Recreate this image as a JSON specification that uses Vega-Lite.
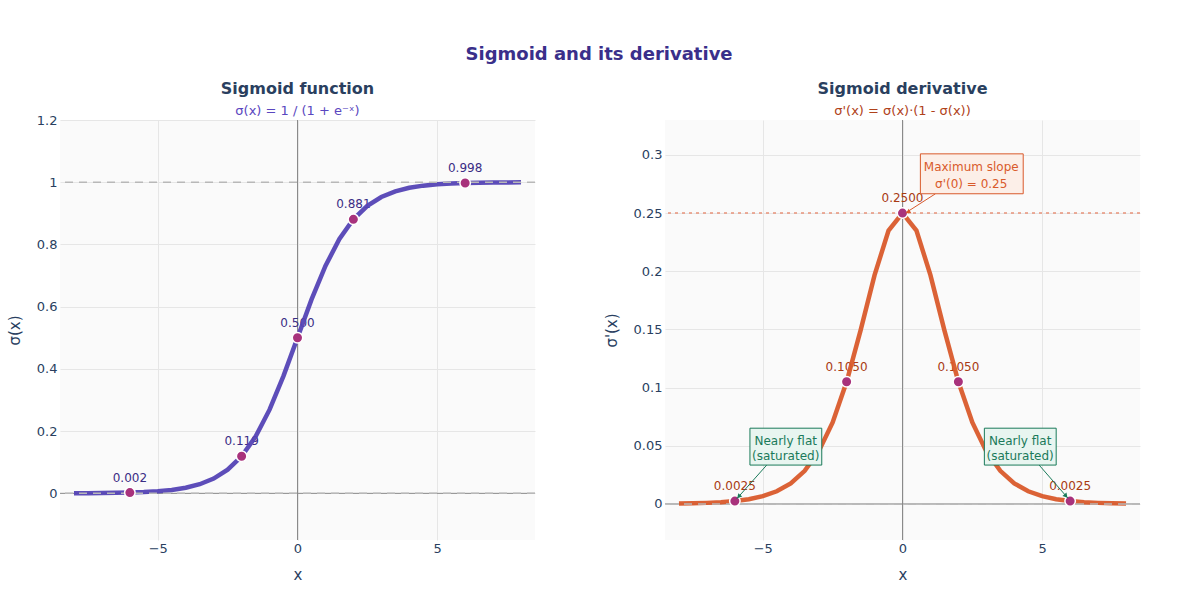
{
  "$schema": "https://vega.github.io/schema/vega-lite/v6.json",
  "background": "white",
  "padding": {"left": 7, "top": 45, "right": 10, "bottom": 10},
  "title": {
    "text": "Sigmoid and its derivative",
    "fontSize": 18,
    "fontWeight": "bold",
    "color": "#3a2f8a",
    "font": "DejaVu Sans",
    "anchor": "middle",
    "offset": 17,
    "dx": 25
  },
  "config": {
    "font": "DejaVu Sans",
    "view": {"fill": "#fafafa", "stroke": null},
    "axis": {
      "domain": false,
      "ticks": false,
      "tickSize": 0,
      "gridColor": "#e6e6e6",
      "labelColor": "#2a3f5f",
      "labelFontSize": 13,
      "labelFont": "DejaVu Sans",
      "titleColor": "#2a3f5f",
      "titleFontSize": 15,
      "titleFontWeight": "normal",
      "titleFont": "DejaVu Sans"
    },
    "axisX": {"labelPadding": 2, "titlePadding": 12},
    "axisY": {"labelPadding": 3, "titlePadding": 14}
  },
  "datasets": {
    "curve": [
      {"x": -8, "s": 0.000335, "d": 0.000335},
      {"x": -7.5, "s": 0.000553, "d": 0.000553},
      {"x": -7, "s": 0.000911, "d": 0.000910},
      {"x": -6.5, "s": 0.001501, "d": 0.001499},
      {"x": -6, "s": 0.002473, "d": 0.002467},
      {"x": -5.5, "s": 0.004070, "d": 0.004054},
      {"x": -5, "s": 0.006693, "d": 0.006648},
      {"x": -4.5, "s": 0.010987, "d": 0.010866},
      {"x": -4, "s": 0.017986, "d": 0.017663},
      {"x": -3.5, "s": 0.029312, "d": 0.028453},
      {"x": -3, "s": 0.047426, "d": 0.045177},
      {"x": -2.5, "s": 0.075858, "d": 0.070104},
      {"x": -2, "s": 0.119203, "d": 0.104994},
      {"x": -1.5, "s": 0.182426, "d": 0.149146},
      {"x": -1, "s": 0.268941, "d": 0.196612},
      {"x": -0.5, "s": 0.377541, "d": 0.235004},
      {"x": 0, "s": 0.5, "d": 0.25},
      {"x": 0.5, "s": 0.622459, "d": 0.235004},
      {"x": 1, "s": 0.731059, "d": 0.196612},
      {"x": 1.5, "s": 0.817574, "d": 0.149146},
      {"x": 2, "s": 0.880797, "d": 0.104994},
      {"x": 2.5, "s": 0.924142, "d": 0.070104},
      {"x": 3, "s": 0.952574, "d": 0.045177},
      {"x": 3.5, "s": 0.970688, "d": 0.028453},
      {"x": 4, "s": 0.982014, "d": 0.017663},
      {"x": 4.5, "s": 0.989013, "d": 0.010866},
      {"x": 5, "s": 0.993307, "d": 0.006648},
      {"x": 5.5, "s": 0.995930, "d": 0.004054},
      {"x": 6, "s": 0.997527, "d": 0.002467},
      {"x": 6.5, "s": 0.998499, "d": 0.001499},
      {"x": 7, "s": 0.999089, "d": 0.000910},
      {"x": 7.5, "s": 0.999447, "d": 0.000553},
      {"x": 8, "s": 0.999665, "d": 0.000335}
    ],
    "marked": [
      {"x": -6, "s": 0.002473, "d": 0.002467, "sl": "0.002", "dl": "0.0025"},
      {"x": -2, "s": 0.119203, "d": 0.104994, "sl": "0.119", "dl": "0.1050"},
      {"x": 0, "s": 0.5, "d": 0.25, "sl": "0.500", "dl": "0.2500"},
      {"x": 2, "s": 0.880797, "d": 0.104994, "sl": "0.881", "dl": "0.1050"},
      {"x": 6, "s": 0.997527, "d": 0.002467, "sl": "0.998", "dl": "0.0025"}
    ],
    "notes": [
      {"kind": "max", "x": 0.64, "x2": 4.32, "y": 0.3009, "y2": 0.2666, "tx": 2.46, "ty1": 0.2892, "ty2": 0.2748, "l1": "Maximum slope", "l2": "σ'(0) = 0.25", "ax": 1.18, "ay": 0.2666, "hx": 0.12, "hy": 0.2503, "px": 0.2, "py": 0.2508, "ang": 238},
      {"kind": "flat", "x": -5.46, "x2": -2.89, "y": 0.0651, "y2": 0.0334, "tx": -4.18, "ty1": 0.0545, "ty2": 0.0415, "l1": "Nearly flat", "l2": "(saturated)", "ax": -4.86, "ay": 0.0334, "hx": -5.93, "hy": 0.0045, "px": -5.86, "py": 0.0063, "ang": 221},
      {"kind": "flat", "x": 2.93, "x2": 5.5, "y": 0.0651, "y2": 0.0334, "tx": 4.21, "ty1": 0.0545, "ty2": 0.0415, "l1": "Nearly flat", "l2": "(saturated)", "ax": 4.89, "ay": 0.0334, "hx": 5.92, "hy": 0.0050, "px": 5.85, "py": 0.0068, "ang": 139}
    ]
  },
  "spacing": 130,
  "bounds": "flush",
  "hconcat": [
    {
      "width": 475,
      "height": 420,
      "title": {
        "text": "Sigmoid function",
        "subtitle": "σ(x) = 1 / (1 + e⁻ˣ)",
        "fontSize": 16,
        "fontWeight": "bold",
        "color": "#2a3f5f",
        "subtitleFontSize": 13,
        "subtitleColor": "#5a47c0",
        "subtitlePadding": 8,
        "anchor": "middle",
        "offset": -4
      },
      "layer": [
        {
          "data": {"values": [{"v": 0}]},
          "mark": {"type": "rule", "color": "#8a8a8a", "strokeWidth": 1},
          "encoding": {
            "x": {"field": "v", "type": "quantitative", "scale": {"domain": [-8.5, 8.5], "nice": false, "zero": false}}
          }
        },
        {
          "data": {"values": [{"v": 0}]},
          "mark": {"type": "rule", "color": "#8a8a8a", "strokeWidth": 1},
          "encoding": {
            "y": {"field": "v", "type": "quantitative", "scale": {"domain": [-0.15, 1.2], "nice": false, "zero": false}}
          }
        },
        {
          "data": {"name": "marked"},
          "mark": {"type": "text", "dy": -15, "fontSize": 12, "color": "#3a2d85"},
          "encoding": {
            "x": {"field": "x", "type": "quantitative", "scale": {"domain": [-8.5, 8.5], "nice": false, "zero": false}},
            "y": {"field": "s", "type": "quantitative", "scale": {"domain": [-0.15, 1.2], "nice": false, "zero": false}},
            "text": {"field": "sl"}
          }
        },
        {
          "data": {"name": "curve"},
          "mark": {"type": "line", "color": "#5443b5", "strokeWidth": 4.5, "opacity": 0.95},
          "encoding": {
            "x": {
              "field": "x", "type": "quantitative",
              "scale": {"domain": [-8.5, 8.5], "nice": false, "zero": false},
              "axis": {"title": "x", "values": [-5, 0, 5]}
            },
            "y": {
              "field": "s", "type": "quantitative",
              "scale": {"domain": [-0.15, 1.2], "nice": false, "zero": false},
              "axis": {"title": "σ(x)", "values": [0, 0.2, 0.4, 0.6, 0.8, 1, 1.2], "format": "~g"}
            }
          }
        },
        {
          "data": {"values": [{"v": 0}, {"v": 1}]},
          "mark": {"type": "rule", "color": "#b8b8b8", "strokeWidth": 1.5, "strokeDash": [8, 6]},
          "encoding": {
            "y": {"field": "v", "type": "quantitative", "scale": {"domain": [-0.15, 1.2], "nice": false, "zero": false}}
          }
        },
        {
          "data": {"name": "marked"},
          "mark": {"type": "point", "filled": true, "size": 110, "color": "#a8327c", "stroke": "white", "strokeWidth": 1.5, "opacity": 1},
          "encoding": {
            "x": {"field": "x", "type": "quantitative", "scale": {"domain": [-8.5, 8.5], "nice": false, "zero": false}},
            "y": {"field": "s", "type": "quantitative", "scale": {"domain": [-0.15, 1.2], "nice": false, "zero": false}}
          }
        }
      ]
    },
    {
      "width": 475,
      "height": 420,
      "title": {
        "text": "Sigmoid derivative",
        "subtitle": "σ'(x) = σ(x)·(1 - σ(x))",
        "fontSize": 16,
        "fontWeight": "bold",
        "color": "#2a3f5f",
        "subtitleFontSize": 13,
        "subtitleColor": "#b0421a",
        "subtitlePadding": 8,
        "anchor": "middle",
        "offset": 2
      },
      "layer": [
        {
          "data": {"values": [{"v": 0}]},
          "mark": {"type": "rule", "color": "#8a8a8a", "strokeWidth": 1},
          "encoding": {
            "x": {"field": "v", "type": "quantitative", "scale": {"domain": [-8.5, 8.5], "nice": false, "zero": false}}
          }
        },
        {
          "data": {"values": [{"v": 0}]},
          "mark": {"type": "rule", "color": "#8a8a8a", "strokeWidth": 1},
          "encoding": {
            "y": {"field": "v", "type": "quantitative", "scale": {"domain": [-0.031, 0.33], "nice": false, "zero": false}}
          }
        },
        {
          "data": {"name": "marked"},
          "mark": {"type": "text", "dy": -15, "fontSize": 12, "color": "#a83a12"},
          "encoding": {
            "x": {"field": "x", "type": "quantitative", "scale": {"domain": [-8.5, 8.5], "nice": false, "zero": false}},
            "y": {"field": "d", "type": "quantitative", "scale": {"domain": [-0.031, 0.33], "nice": false, "zero": false}},
            "text": {"field": "dl"}
          }
        },
        {
          "data": {"name": "curve"},
          "mark": {"type": "line", "color": "#d95a2b", "strokeWidth": 4.5, "opacity": 0.95},
          "encoding": {
            "x": {
              "field": "x", "type": "quantitative",
              "scale": {"domain": [-8.5, 8.5], "nice": false, "zero": false},
              "axis": {"title": "x", "values": [-5, 0, 5]}
            },
            "y": {
              "field": "d", "type": "quantitative",
              "scale": {"domain": [-0.031, 0.33], "nice": false, "zero": false},
              "axis": {"title": "σ'(x)", "values": [0, 0.05, 0.1, 0.15, 0.2, 0.25, 0.3], "format": "~g"}
            }
          }
        },
        {
          "data": {"values": [{"v": 0}]},
          "mark": {"type": "rule", "color": "#b8b8b8", "strokeWidth": 1.5, "strokeDash": [8, 6]},
          "encoding": {
            "y": {"field": "v", "type": "quantitative", "scale": {"domain": [-0.031, 0.33], "nice": false, "zero": false}}
          }
        },
        {
          "data": {"values": [{"v": 0.25}]},
          "mark": {"type": "rule", "color": "#e8937a", "strokeWidth": 1.5, "strokeDash": [3, 4]},
          "encoding": {
            "y": {"field": "v", "type": "quantitative", "scale": {"domain": [-0.031, 0.33], "nice": false, "zero": false}}
          }
        },
        {
          "data": {"name": "marked"},
          "mark": {"type": "point", "filled": true, "size": 110, "color": "#a8327c", "stroke": "white", "strokeWidth": 1.5, "opacity": 1},
          "encoding": {
            "x": {"field": "x", "type": "quantitative", "scale": {"domain": [-8.5, 8.5], "nice": false, "zero": false}},
            "y": {"field": "d", "type": "quantitative", "scale": {"domain": [-0.031, 0.33], "nice": false, "zero": false}}
          }
        },
        {
          "data": {"name": "notes"},
          "mark": {"type": "rule", "strokeWidth": 1},
          "encoding": {
            "x": {"field": "ax", "type": "quantitative", "scale": {"domain": [-8.5, 8.5], "nice": false, "zero": false}},
            "y": {"field": "ay", "type": "quantitative", "scale": {"domain": [-0.031, 0.33], "nice": false, "zero": false}},
            "x2": {"field": "hx"},
            "y2": {"field": "hy"},
            "color": {"field": "kind", "type": "nominal", "scale": {"domain": ["max", "flat"], "range": ["#d95a2b", "#1a7a5a"]}, "legend": null}
          }
        },
        {
          "data": {"name": "notes"},
          "mark": {"type": "point", "shape": "triangle-up", "filled": true, "size": 28, "opacity": 1},
          "encoding": {
            "x": {"field": "px", "type": "quantitative", "scale": {"domain": [-8.5, 8.5], "nice": false, "zero": false}},
            "y": {"field": "py", "type": "quantitative", "scale": {"domain": [-0.031, 0.33], "nice": false, "zero": false}},
            "angle": {"field": "ang", "type": "quantitative", "scale": null},
            "color": {"field": "kind", "type": "nominal", "scale": {"domain": ["max", "flat"], "range": ["#d95a2b", "#1a7a5a"]}, "legend": null}
          }
        },
        {
          "data": {"name": "notes"},
          "mark": {"type": "rect", "strokeWidth": 1},
          "encoding": {
            "x": {"field": "x", "type": "quantitative", "scale": {"domain": [-8.5, 8.5], "nice": false, "zero": false}},
            "x2": {"field": "x2"},
            "y": {"field": "y", "type": "quantitative", "scale": {"domain": [-0.031, 0.33], "nice": false, "zero": false}},
            "y2": {"field": "y2"},
            "fill": {"field": "kind", "type": "nominal", "scale": {"domain": ["max", "flat"], "range": ["#fcefe8", "#e8f5f0"]}, "legend": null},
            "stroke": {"field": "kind", "type": "nominal", "scale": {"domain": ["max", "flat"], "range": ["#d95a2b", "#1a7a5a"]}, "legend": null}
          }
        },
        {
          "data": {"name": "notes"},
          "mark": {"type": "text", "fontSize": 12},
          "encoding": {
            "x": {"field": "tx", "type": "quantitative", "scale": {"domain": [-8.5, 8.5], "nice": false, "zero": false}},
            "y": {"field": "ty1", "type": "quantitative", "scale": {"domain": [-0.031, 0.33], "nice": false, "zero": false}},
            "text": {"field": "l1"},
            "color": {"field": "kind", "type": "nominal", "scale": {"domain": ["max", "flat"], "range": ["#b0421a", "#1a7a5a"]}, "legend": null}
          }
        },
        {
          "data": {"name": "notes"},
          "mark": {"type": "text", "fontSize": 12},
          "encoding": {
            "x": {"field": "tx", "type": "quantitative", "scale": {"domain": [-8.5, 8.5], "nice": false, "zero": false}},
            "y": {"field": "ty2", "type": "quantitative", "scale": {"domain": [-0.031, 0.33], "nice": false, "zero": false}},
            "text": {"field": "l2"},
            "color": {"field": "kind", "type": "nominal", "scale": {"domain": ["max", "flat"], "range": ["#b0421a", "#1a7a5a"]}, "legend": null}
          }
        }
      ]
    }
  ]
}
